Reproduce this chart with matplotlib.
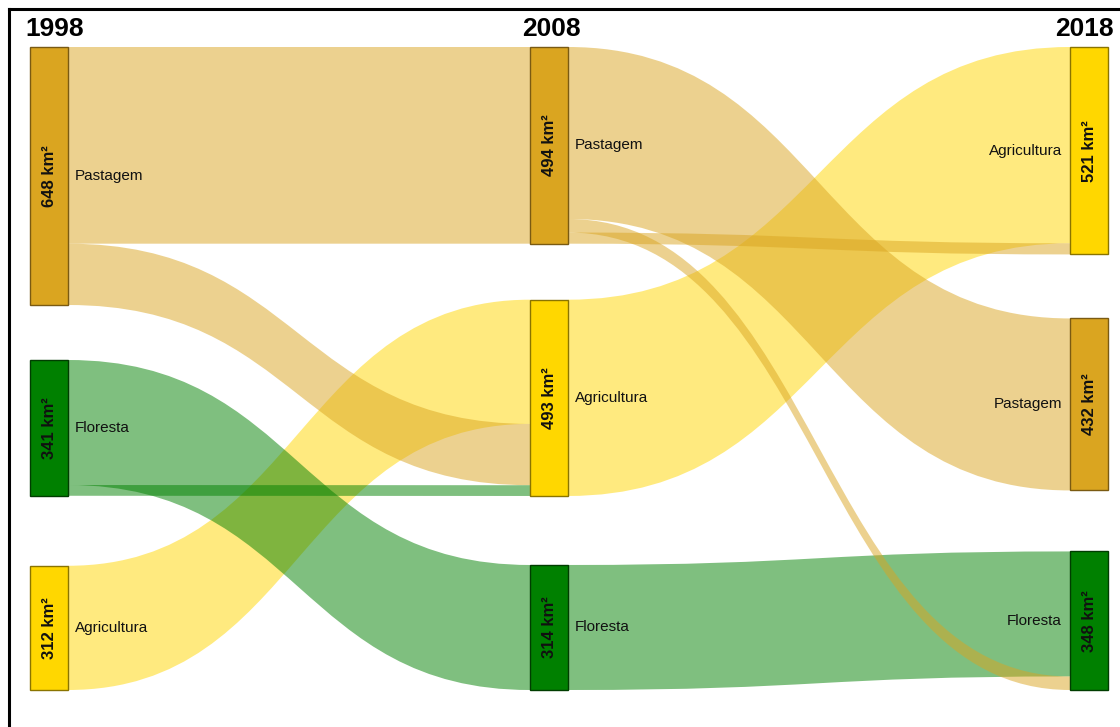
import matplotlib
matplotlib.use("Agg")
import matplotlib.pyplot as plt
from matplotlib.path import Path
from matplotlib.patches import PathPatch, Rectangle

plt.rcParams['font.family'] = ['Liberation Sans', 'DejaVu Sans']

# data
years = ['1998', '2008', '2018']
nodes = [
    ['Pastagem', 'Floresta', 'Agricultura'],   # 1998
    ['Pastagem', 'Agricultura', 'Floresta'],   # 2008
    ['Agricultura', 'Pastagem', 'Floresta'],   # 2018
]
node_values = [
    [648, 341, 312],
    [494, 493, 314],
    [521, 432, 348],
]
# links: (source name, target name, km²) -- listed in stacking order
links_1998_2008 = [
    ('Agricultura', 'Agricultura', 312),
    ('Pastagem', 'Pastagem', 494),
    ('Pastagem', 'Agricultura', 154),
    ('Floresta', 'Floresta', 314),
    ('Floresta', 'Agricultura', 27),
]
links_2008_2018 = [
    ('Agricultura', 'Agricultura', 493),
    ('Pastagem', 'Pastagem', 432),
    ('Floresta', 'Floresta', 314),
    ('Pastagem', 'Floresta', 34),
    ('Pastagem', 'Agricultura', 28),
]

colors = {'Pastagem': '#DAA520', 'Agricultura': '#FFD700', 'Floresta': '#008000'}
edges = {'Pastagem': '#7a5a12', 'Agricultura': '#8a7400', 'Floresta': '#003d00'}

# layout in pixels
W, H = 1120, 727
col_x = [30, 530, 1070]
node_w = 38
top = 47
scale = 258 / 648
gaps = [[55, 70], [56, 69], [64, 61]]

fig = plt.figure(figsize=(W / 100, H / 100), dpi=100)
ax = fig.add_axes([0, 0, 1, 1])
ax.set_xlim(0, W)
ax.set_ylim(H, 0)
ax.axis('off')

# node positions
node_pos = []
for c in range(3):
    pos = {}
    y = top
    for i, (name, v) in enumerate(zip(nodes[c], node_values[c])):
        h = v * scale
        pos[name] = [y, y + h]
        y += h
        if i < len(gaps[c]):
            y += gaps[c][i]
    node_pos.append(pos)


def draw_links(c, links):
    x0 = col_x[c] + node_w
    x1 = col_x[c + 1]
    xm = (x0 + x1) / 2
    src_off = {k: v[0] for k, v in node_pos[c].items()}
    tgt_off = {k: v[0] for k, v in node_pos[c + 1].items()}
    for s, t, v in links:
        h = v * scale
        a0, a1 = src_off[s], src_off[s] + h
        b0, b1 = tgt_off[t], tgt_off[t] + h
        src_off[s] += h
        tgt_off[t] += h
        verts = [(x0, a0), (xm, a0), (xm, b0), (x1, b0),
                 (x1, b1), (xm, b1), (xm, a1), (x0, a1), (x0, a0)]
        codes = [Path.MOVETO, Path.CURVE4, Path.CURVE4, Path.CURVE4,
                 Path.LINETO, Path.CURVE4, Path.CURVE4, Path.CURVE4, Path.CLOSEPOLY]
        ax.add_patch(PathPatch(Path(verts, codes), facecolor=colors[s],
                               edgecolor='none', alpha=0.5, zorder=1))


draw_links(0, links_1998_2008)
draw_links(1, links_2008_2018)

# nodes and labels
for c in range(3):
    for name, v in zip(nodes[c], node_values[c]):
        y0, y1 = node_pos[c][name]
        ax.add_patch(Rectangle((col_x[c], y0), node_w, y1 - y0, facecolor=colors[name],
                               edgecolor=edges[name], lw=1, zorder=3))
        ym = (y0 + y1) / 2
        ax.text(col_x[c] + node_w / 2 + 1, ym, f'{v} km²', rotation=90, ha='center',
                va='center', fontsize=12, fontweight='bold', color='#111111', zorder=4)
        if c < 2:
            ax.text(col_x[c] + node_w + 7, ym, name, ha='left', va='center',
                    fontsize=11, color='#111111', zorder=4)
        else:
            ax.text(col_x[c] - 8, ym, name, ha='right', va='center',
                    fontsize=11, color='#111111', zorder=4)

# year headers
ax.text(25, 29, years[0], ha='left', va='center', fontsize=19, fontweight='bold')
ax.text(col_x[1] + node_w / 2 + 2, 29, years[1], ha='center', va='center',
        fontsize=19, fontweight='bold')
ax.text(1114, 29, years[2], ha='right', va='center', fontsize=19, fontweight='bold')

# frame
ax.plot([8.5, 8.5], [H, 8.5], color='black', lw=2.2, solid_capstyle='projecting')
ax.plot([8.5, W], [8.5, 8.5], color='black', lw=2.2, solid_capstyle='projecting')

fig.savefig('out.png', dpi=100)
